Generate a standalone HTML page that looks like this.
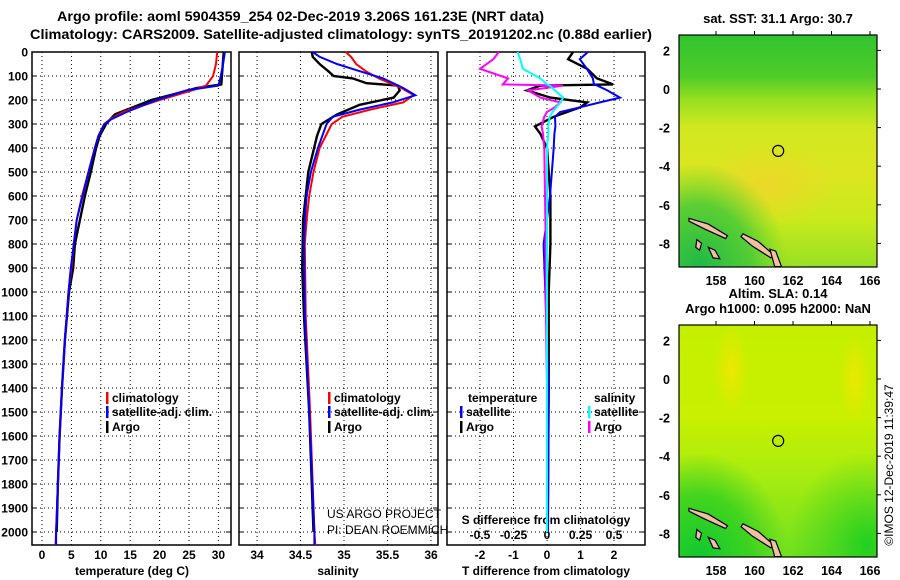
<!DOCTYPE html>
<html><head><meta charset="utf-8"><style>
body{margin:0;background:#fff}
svg{display:block;font-family:"Liberation Sans",sans-serif}
.b{font-weight:bold;font-size:12.5px}
.h{font-weight:bold;font-size:14px}
.t{font-weight:bold;font-size:12px}
.m{font-weight:bold;font-size:13px}
</style></head><body>
<svg id="c" width="900" height="580" viewBox="0 0 900 580">
<defs>
<linearGradient id="sstV" x1="0" y1="0" x2="0" y2="1">
<stop offset="0" stop-color="#30c430"/><stop offset="0.18" stop-color="#50cc28"/><stop offset="0.28" stop-color="#98e020"/><stop offset="0.4" stop-color="#d0e820"/><stop offset="0.6" stop-color="#dce620"/><stop offset="0.8" stop-color="#c8ea1c"/><stop offset="1" stop-color="#98e024"/>
</linearGradient>
<radialGradient id="sstC" cx="0.1" cy="1" r="0.45"><stop offset="0" stop-color="#20b848"/><stop offset="0.6" stop-color="#40c838" stop-opacity="0.8"/><stop offset="1" stop-color="#60d030" stop-opacity="0"/></radialGradient>
<radialGradient id="sstO" cx="0.45" cy="0.5" r="0.35"><stop offset="0" stop-color="#ecd828"/><stop offset="1" stop-color="#ecd828" stop-opacity="0"/></radialGradient>
<linearGradient id="slaV" x1="0" y1="0" x2="0" y2="1">
<stop offset="0" stop-color="#c4f000"/><stop offset="0.4" stop-color="#c8f000"/><stop offset="0.65" stop-color="#a8ec10"/><stop offset="1" stop-color="#70e020"/>
</linearGradient>
<radialGradient id="slaC" cx="0.1" cy="1" r="0.45"><stop offset="0" stop-color="#10c830"/><stop offset="0.6" stop-color="#30d020" stop-opacity="0.8"/><stop offset="1" stop-color="#40d020" stop-opacity="0"/></radialGradient>
<radialGradient id="slaR" cx="0.95" cy="0.95" r="0.4"><stop offset="0" stop-color="#20d020"/><stop offset="1" stop-color="#40d020" stop-opacity="0"/></radialGradient>
<radialGradient id="slaY" cx="0.5" cy="0.5" r="0.5"><stop offset="0" stop-color="#ece800"/><stop offset="1" stop-color="#ece800" stop-opacity="0"/></radialGradient>
</defs>
<text x="57" y="21" textLength="487" lengthAdjust="spacingAndGlyphs" class="h">Argo profile: aoml 5904359_254 02-Dec-2019 3.206S 161.23E (NRT data)</text>
<text x="30" y="39" textLength="622" lengthAdjust="spacingAndGlyphs" class="h">Climatology: CARS2009. Satellite-adjusted climatology: synTS_20191202.nc (0.88d earlier)</text>
<g id="plots"></g>
<g id="maps"></g>
<text transform="translate(893,465) rotate(-90)" text-anchor="middle" font-size="12">©IMOS 12-Dec-2019 11:39:47</text>
</svg>
<script>
// ---- data (depth in m) ----
const climDepth=[0,50,100,140,160,200,250,280,300,350,400,500,600,700,800,900,1000,1200,1400,1600,1800,2000,2055];
const climTemp=[29.8,29.6,29.1,27.9,25.5,20,13.8,11.6,10.6,9.6,9,7.9,6.8,5.9,5.4,5,4.5,3.9,3.4,3,2.7,2.4,2.3];
const satTemp=[31.1,30.8,30.4,30,24.6,19.5,14.4,11.8,10.6,9.6,9,7.9,6.9,5.9,5.4,4.9,4.5,3.9,3.4,3,2.7,2.4,2.4];
const argoDepth=[0,100,135,150,180,200,230,260,300,350,400,500,600,800,900,1000,1200,1400,1600,1800,2000];
const argoTemp=[30.9,30.6,30.5,26.3,21.8,18.6,15.5,12.4,10.9,9.8,9.2,8.3,7.3,5.6,5.3,4.6,3.9,3.4,3,2.7,2.5];
const salDepth=[0,20,50,80,110,150,180,210,240,270,300,400,500,600,700,800,1100,1500,2000,2055];
const climSal=[35.02,35.08,35.14,35.25,35.4,35.66,35.8,35.68,35.3,34.98,34.86,34.72,34.65,34.6,34.57,34.55,34.56,34.61,34.66,34.67];
const satSal=[34.64,34.72,34.92,35.18,35.45,35.68,35.82,35.56,35.18,34.87,34.8,34.7,34.62,34.57,34.55,34.54,34.55,34.6,34.66,34.66];
const argoSalDepth=[0,20,50,80,100,110,130,140,160,190,220,260,300,350,500,700,900,1100,1500,2000];
const argoSal=[34.63,34.64,34.72,34.82,34.88,35.1,35.26,35.62,35.64,35.57,35.18,34.92,34.74,34.69,34.59,34.53,34.52,34.54,34.6,34.65];
const diffDepth=[0,30,70,110,135,140,160,190,210,230,250,270,310,340,400,600,800,1000,1400,2000];
const satTDiff=[1.22,0.98,1.19,1.37,1.4,1.5,1.8,2.18,1.58,1.0,0.39,0.24,0.25,0.22,0.2,0.09,-0.1,-0.05,0.05,0.03];
const argoTDiff=[0.78,0.63,1.2,1.49,1.97,-0.2,-0.6,0.1,1.2,1.0,0.6,0.2,-0.36,-0.2,0,0.1,0.1,0.05,0.05,0.02];
const argoSDiff=[-0.36,-0.4,-0.5,-0.29,-0.33,0.12,-0.14,-0.05,0.1,0.06,0,-0.02,-0.04,-0.03,-0.02,-0.015,-0.01,-0.01,0,0];
const satSDiff=[-0.22,-0.2,-0.18,-0.05,0,0.02,0.06,0.12,0.1,0.07,0.04,0.02,0.01,0.01,0,0,0,0,0,0];
const depthTicks=[0,100,200,300,400,500,600,700,800,900,1000,1100,1200,1300,1400,1500,1600,1700,1800,1900,2000];
const tempTicks=[0,5,10,15,20,25,30];
const salTicks=[34,34.5,35,35.5,36];
const tdTicks=[-2,-1,0,1,2];
const sdTicks=[-0.5,-0.25,0,0.25,0.5];
const lonTicks=[158,160,162,164,166];
const latTicks=[2,0,-2,-4,-6,-8];

const NS='http://www.w3.org/2000/svg';
function mk(tag,attrs,parent){const e=document.createElementNS(NS,tag);for(const k in attrs)e.setAttribute(k,attrs[k]);parent.appendChild(e);return e;}
const P=document.getElementById('plots');
const top0=52,bot=545;
const yD=d=>top0+d*0.24;
const xT=t=>42+5.88*t;
const xS=s=>257+87*(s-34);
const xTD=v=>547+33.5*v;
const xSD=v=>547+134*v;
const panels=[[32,231],[239,438],[447,645]];
panels.forEach((p,i)=>{
  const g=mk('g',{},P);
  
  
  depthTicks.forEach(d=>{const y=yD(d);const l=mk('line',{x1:p[0],x2:p[1],y1:y,y2:y,stroke:'#000','stroke-width':1,'stroke-dasharray':'1,3'},g);
    mk('line',{x1:p[0],x2:p[0]+5,y1:y,y2:y,stroke:'#000'},g);mk('line',{x1:p[1]-5,x2:p[1],y1:y,y2:y,stroke:'#000'},g);});
  const xt=i==0?tempTicks.map(xT):i==1?salTicks.map(xS):tdTicks.map(xTD);
  xt.forEach(x=>{const l=mk('line',{x1:x,x2:x,y1:top0,y2:bot,stroke:'#000','stroke-dasharray':'1,3'},g);});
  const r=mk('rect',{x:p[0],y:top0,width:p[1]-p[0],height:bot-top0,fill:'none',stroke:'#000','stroke-width':1.5},g);
  
});
depthTicks.forEach(d=>{const t=mk('text',{x:28,y:yD(d)+4.5,'text-anchor':'end','class':'t'},P);t.textContent=d;});
function xlabels(ticks,f,y){ticks.forEach(v=>{const t=mk('text',{x:f(v),y:y,'text-anchor':'middle','class':'t'},P);t.textContent=v;});}
xlabels(tempTicks,xT,559);xlabels(salTicks,xS,559);xlabels(tdTicks,xTD,559);
xlabels(sdTicks,xSD,539);
function title(x,y,s,n){const t=mk('text',{x:x,y:y,'text-anchor':'middle','class':'t'},P);t.textContent=s;}
title(132,575,'temperature (deg C)','temperature-axis-title');
title(338,575,'salinity','salinity-axis-title');
title(546,575,'T difference from climatology','t-diff-axis-title');
title(546,524,'S difference from climatology','s-diff-axis-title');
function line(xs,ds,fx,col,name,w){const pts=xs.map((v,i)=>fx(v).toFixed(1)+','+yD(ds[i]).toFixed(1)).join(' ');
  const l=mk('polyline',{points:pts,fill:'none',stroke:col,'stroke-width':w||2},P);}
line(argoTemp,argoDepth,xT,'#000','argo-temperature-line',2.4);
line(climTemp,climDepth,xT,'#f00','climatology-temperature-line');
line(satTemp,climDepth,xT,'#00f','satellite-temperature-line');
line(argoSal,argoSalDepth,xS,'#000','argo-salinity-line',2.4);
line(climSal,salDepth,xS,'#f00','climatology-salinity-line');
line(satSal,salDepth,xS,'#00f','satellite-salinity-line');
line(argoTDiff,diffDepth,xTD,'#000','argo-t-diff-line',2.4);
line(satTDiff,diffDepth,xTD,'#00f','satellite-t-diff-line');
line(argoSDiff,diffDepth,xSD,'#f0f','argo-s-diff-line');
line(satSDiff,diffDepth,xSD,'#0ff','satellite-s-diff-line');
function leg(x,y,col,s,n){const g=mk('g',{},P);
  if(col)mk('rect',{x:x,y:y-10,width:2.5,height:12,fill:col},g);
  const t=mk('text',{x:x+6,y:y,'class':'t'},g);t.textContent=s;}
leg(106,402,'#f00','climatology','legend-climatology');
leg(106,416,'#00f','satellite-adj. clim.','legend-satellite');
leg(106,431,'#000','Argo','legend-argo');
leg(328,402,'#f00','climatology','legend-climatology-sal');
leg(328,416,'#00f','satellite-adj. clim.','legend-satellite-sal');
leg(328,431,'#000','Argo','legend-argo-sal');
leg(462,402,null,'temperature','legend-temperature-heading');
leg(588,402,null,'salinity','legend-salinity-heading');
leg(460,416,'#00f','satellite','legend-t-satellite');
leg(460,431,'#000','Argo','legend-t-argo');
leg(588,416,'#0ff','satellite','legend-s-satellite');
leg(588,431,'#f0f','Argo','legend-s-argo');
const c1=mk('text',{x:327,y:518,'font-size':12},P);c1.textContent='US ARGO PROJECT';
const c2=mk('text',{x:327,y:534,'font-size':12},P);c2.textContent='PI: DEAN ROEMMICH';

// ---- maps ----
const M=document.getElementById('maps');
const mx=l=>716+19.25*(l-158);
function drawMap(y0,kind,titleLines){
  const my=la=>y0+54-19.3*la;
  const g=mk('g',{},M);
  const x0=679,w=198,h=232,yt=y0;
  if(kind==='sst'){
    mk('rect',{x:x0,y:yt,width:w,height:h,fill:'url(#sstV)'},g);
    mk('rect',{x:x0,y:yt+90,width:w,height:120,fill:'url(#sstO)'},g);
    mk('rect',{x:x0,y:yt,width:w,height:h,fill:'url(#sstC)'},g);
  }else{
    mk('rect',{x:x0,y:yt,width:w,height:h,fill:'url(#slaV)'},g);
    mk('ellipse',{cx:mx(158.8),cy:my(0.5),rx:18,ry:45,fill:'url(#slaY)'},g);
    mk('ellipse',{cx:mx(165.2),cy:my(0),rx:16,ry:45,fill:'url(#slaY)'},g);
    mk('rect',{x:x0,y:yt,width:w,height:h,fill:'url(#slaC)'},g);
    mk('rect',{x:x0,y:yt,width:w,height:h,fill:'url(#slaR)'},g);
  }
  const isl=[[[156.6,-6.7],[157.6,-7.0],[158.6,-7.6],[158.5,-7.75],[157.4,-7.25],[156.6,-6.85]],
    [[159.4,-7.5],[160.2,-7.9],[161.0,-8.6],[160.85,-8.75],[159.9,-8.15],[159.3,-7.65]],
    [[160.8,-8.3],[161.1,-8.4],[161.4,-9.2],[161.05,-9.2]],
    [[157.0,-7.8],[157.25,-8.0],[157.15,-8.35],[156.95,-8.2]],
    [[157.6,-8.2],[157.95,-8.35],[158.2,-8.8],[157.85,-8.75]]];
  isl.forEach(p=>{const q=mk('polygon',{points:p.map(a=>mx(a[0]).toFixed(1)+','+my(a[1]).toFixed(1)).join(' '),fill:'#f0c0a0',stroke:'#000','stroke-width':1.2},g);});
  const c=mk('circle',{cx:mx(161.23),cy:my(-3.206),r:5.5,fill:'none',stroke:'#000','stroke-width':1.2},g);
  
  mk('rect',{x:x0,y:yt,width:w,height:h,fill:'none',stroke:'#000','stroke-width':1.2},g);
  lonTicks.forEach(l=>{mk('line',{x1:mx(l),x2:mx(l),y1:yt,y2:yt-4,stroke:'#000'},g);
    const t=mk('text',{x:mx(l),y:yt+h+18,'text-anchor':'middle','class':'b'},g);t.textContent=l;});
  latTicks.forEach(la=>{mk('line',{x1:x0+w,x2:x0+w+4,y1:my(la),y2:my(la),stroke:'#000'},g);
    const t=mk('text',{x:x0-9,y:my(la)+5,'text-anchor':'end','class':'b'},g);t.textContent=la;});
  titleLines.forEach((s,i)=>{const t=mk('text',{x:778,y:yt-(titleLines.length-i)*15+3,'text-anchor':'middle','class':'m'},g);t.textContent=s;});
}
drawMap(35,'sst',['sat. SST: 31.1 Argo: 30.7']);
drawMap(325,'sla',['Altim. SLA: 0.14','Argo h1000: 0.095 h2000: NaN']);
</script>
</body></html>
